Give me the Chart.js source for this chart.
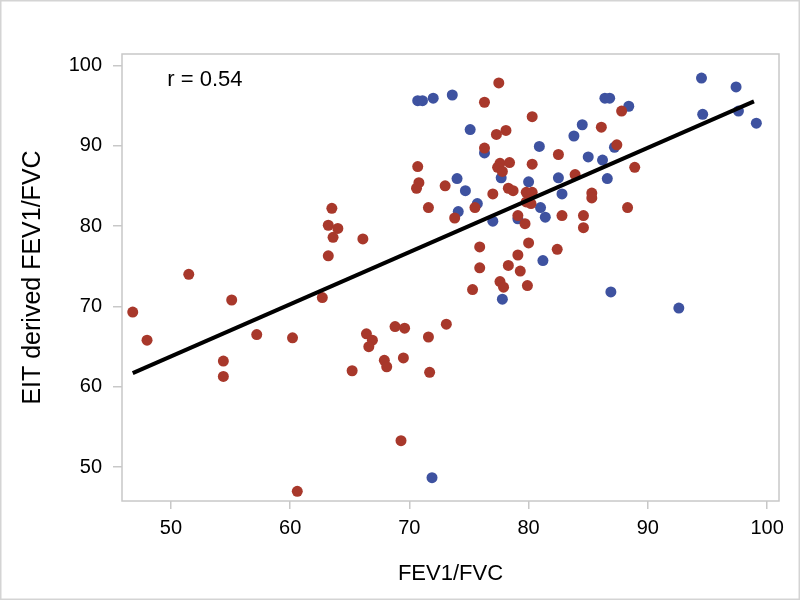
<!DOCTYPE html>
<html>
<head>
<meta charset="utf-8">
<title>EIT vs spirometry FEV1/FVC</title>
<script src="https://cdn.jsdelivr.net/npm/chart.js@4.4.1/dist/chart.umd.min.js"></script>
<style>
  html, body { margin: 0; padding: 0; background: #fff; }
  #wrap { width: 800px; height: 600px; }
</style>
</head>
<body>
<div id="wrap"><canvas id="scatterChart" width="800" height="600"></canvas></div>
<script>
// points: [FEV1/FVC, EIT derived FEV1/FVC]
const bluePoints = [
  [70.7, 95.6], [71.1, 95.6], [72.0, 95.9], [73.6, 96.3], [75.1, 92.0],
  [76.3, 89.1], [80.9, 89.9], [74.0, 85.9], [74.7, 84.4], [77.7, 86.0],
  [80.0, 85.5], [74.1, 81.8], [75.7, 82.8], [77.0, 80.6], [79.1, 80.9],
  [81.0, 82.3], [81.4, 81.1], [82.5, 86.0], [82.8, 84.0], [83.8, 91.2],
  [84.5, 92.6], [85.0, 88.6], [86.2, 88.2], [86.6, 85.9], [86.4, 95.9],
  [86.8, 95.9], [88.4, 94.9], [87.2, 89.8], [94.5, 98.4], [97.4, 97.3],
  [94.6, 93.9], [97.6, 94.3], [99.1, 92.8], [86.9, 71.8], [92.6, 69.8],
  [81.2, 75.7], [77.8, 70.9], [71.9, 48.7]
];

const redPoints = [
  [46.8, 69.3], [48.0, 65.8], [51.5, 74.0], [55.1, 70.8], [54.4, 63.2],
  [54.4, 61.3], [57.2, 66.5], [60.2, 66.1], [60.6, 47.0], [63.2, 76.3],
  [62.7, 71.1], [63.5, 82.2], [63.2, 80.1], [64.0, 79.7], [63.6, 78.6],
  [66.1, 78.4], [65.2, 62.0], [66.4, 66.6], [66.9, 65.8], [66.6, 65.0],
  [67.9, 63.3], [68.1, 62.5], [68.8, 67.5], [69.6, 67.3], [69.5, 63.6],
  [69.3, 53.3], [71.6, 66.2], [71.7, 61.8], [73.1, 67.8], [70.7, 87.4],
  [70.8, 85.4], [70.6, 84.7], [73.0, 85.0], [71.6, 82.3], [77.5, 97.8],
  [76.3, 95.4], [80.3, 93.6], [77.3, 91.4], [78.1, 91.9], [76.3, 89.7],
  [77.6, 87.8], [78.4, 87.9], [77.4, 87.3], [77.8, 86.8], [80.3, 87.7],
  [77.0, 84.0], [78.3, 84.7], [78.7, 84.4], [79.8, 84.2], [80.3, 84.2],
  [80.0, 83.2], [80.2, 82.8], [79.8, 83.0], [86.1, 92.3], [87.8, 94.3],
  [87.4, 90.1], [82.5, 88.9], [88.9, 87.3], [83.9, 86.4], [85.3, 84.1],
  [85.3, 83.5], [75.5, 82.3], [73.8, 81.0], [79.1, 81.3], [79.7, 80.3],
  [82.8, 81.3], [84.6, 81.3], [84.6, 79.8], [88.3, 82.3], [75.9, 77.4],
  [75.9, 74.8], [80.0, 77.9], [79.1, 76.4], [82.4, 77.1], [78.3, 75.1],
  [79.3, 74.4], [75.3, 72.1], [77.6, 73.1], [77.9, 72.4], [79.9, 72.6]
];

const fitX = [46.8, 98.9];
const fitY = [61.7, 95.5];

const xTicks = [50, 60, 70, 80, 90, 100];
const yTicks = [50, 60, 70, 80, 90, 100];
const rLabel = "r = 0.54";

const toXY = (p) => ({ x: p[0], y: p[1] });
const fitLine = fitX.map((x, i) => ({ x: x, y: fitY[i] }));

const frameColor = "#c8c8c8";
const fontFamily = "'Liberation Sans', Arial, sans-serif";

// white background, outer border and the box round the plot
const framePlugin = {
  id: "frame",
  beforeDraw(chart) {
    const ctx = chart.ctx;
    ctx.save();
    ctx.fillStyle = "#fff";
    ctx.fillRect(0, 0, chart.width, chart.height);
    ctx.strokeStyle = "#d4d4d4";
    ctx.lineWidth = 1.5;
    ctx.strokeRect(0.75, 0.75, chart.width - 1.5, chart.height - 1.5);
    ctx.restore();
  },
  afterDraw(chart) {
    const a = chart.chartArea;
    const ctx = chart.ctx;
    ctx.save();
    ctx.strokeStyle = frameColor;
    ctx.lineWidth = 1.5;
    ctx.strokeRect(a.left, a.top, a.right - a.left, a.bottom - a.top);
    ctx.restore();
  },
};

// the r value in the top left corner
const rPlugin = {
  id: "rText",
  afterDatasetsDraw(chart) {
    const ctx = chart.ctx;
    const xs = chart.scales.x;
    const ys = chart.scales.y;
    ctx.save();
    ctx.font = "22px " + fontFamily;
    ctx.fillStyle = "#000";
    ctx.textAlign = "left";
    ctx.textBaseline = "middle";
    ctx.fillText(rLabel, xs.getPixelForValue(49.7), ys.getPixelForValue(98.2));
    ctx.restore();
  },
};

const config = {
  type: "scatter",
  data: {
    datasets: [
      {
        type: "line",
        label: "fit",
        data: fitLine,
        borderColor: "#000",
        borderWidth: 4,
        pointRadius: 0,
        fill: false,
        order: 0,
      },
      {
        label: "red",
        data: redPoints.map(toXY),
        backgroundColor: "#a8382b",
        borderColor: "#a8382b",
        borderWidth: 0,
        pointRadius: 5.5,
        order: 1,
      },
      {
        label: "blue",
        data: bluePoints.map(toXY),
        backgroundColor: "#3e52a0",
        borderColor: "#3e52a0",
        borderWidth: 0,
        pointRadius: 5.5,
        order: 2,
      },
    ],
  },
  options: {
    responsive: false,
    animation: false,
    layout: { padding: { top: 54, right: 21, left: 0, bottom: 0 } },
    plugins: {
      legend: { display: false },
      tooltip: { enabled: false },
    },
    scales: {
      x: {
        type: "linear",
        min: 45.9,
        max: 101,
        afterFit: (scale) => { scale.height = 99; },
        afterBuildTicks: (scale) => { scale.ticks = xTicks.map((v) => ({ value: v })); },
        grid: { drawOnChartArea: false, drawTicks: true, tickLength: 8, color: frameColor, lineWidth: 1.5 },
        border: { display: false },
        ticks: { color: "#000", padding: 7, font: { family: fontFamily, size: 20 } },
        title: {
          display: true,
          text: "FEV1/FVC",
          color: "#000",
          padding: { top: 10, bottom: 13 },
          font: { family: fontFamily, size: 22 },
        },
      },
      y: {
        type: "linear",
        min: 45.8,
        max: 101.4,
        afterFit: (scale) => { scale.width = 122; },
        afterBuildTicks: (scale) => { scale.ticks = yTicks.map((v) => ({ value: v })); },
        grid: { drawOnChartArea: false, drawTicks: true, tickLength: 9, color: frameColor, lineWidth: 1.5 },
        border: { display: false },
        ticks: { color: "#000", padding: 11, font: { family: fontFamily, size: 20 } },
        title: {
          display: true,
          text: "EIT derived FEV1/FVC",
          color: "#000",
          padding: { top: 18, bottom: 0 },
          font: { family: fontFamily, size: 25 },
        },
      },
    },
  },
  plugins: [framePlugin, rPlugin],
};

const scatterChart = new Chart(document.getElementById("scatterChart"), config);
</script>
</body>
</html>
